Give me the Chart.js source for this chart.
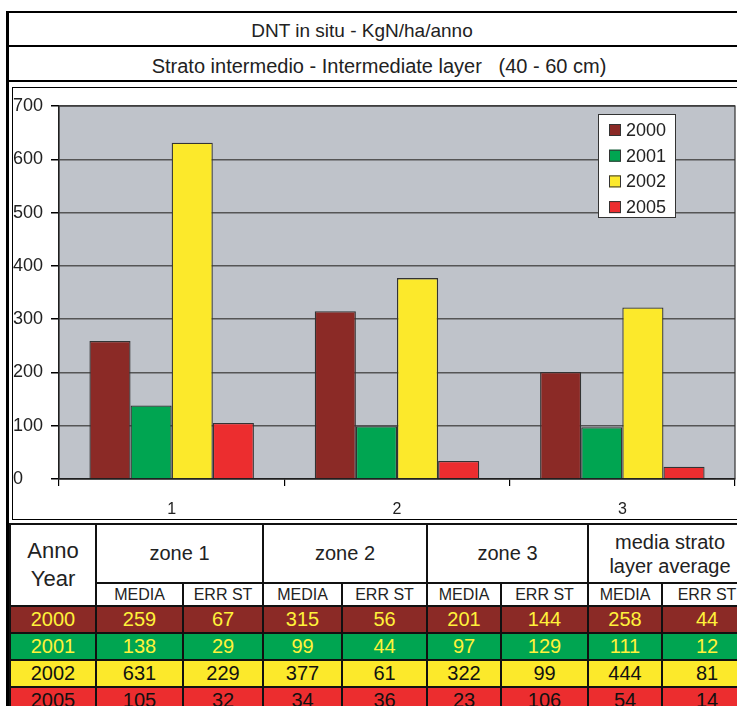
<!DOCTYPE html>
<html>
<head>
<meta charset="utf-8">
<script src="https://cdn.jsdelivr.net/npm/chart.js@4.4.1/dist/chart.umd.min.js"></script>
<style>
  body { margin: 0; width: 737px; height: 706px; overflow: hidden; background: #fff; position: relative;
         font-family: "Liberation Sans", Arial, sans-serif; color: #222; }
  .abs { position: absolute; }
  #leftbar { left: 6px; top: 11px; width: 3px; height: 700px; background: #000; }
  #topline { left: 6px; top: 11px; width: 740px; height: 2px; background: #000; }
  .row { left: 9px; width: 740px; text-align: center; border-bottom: 2px solid #000; box-sizing: border-box; }
  #t1 { top: 13px; height: 34px; line-height: 36px; font-size: 19px; padding-right: 34px; }
  #t2 { top: 47px; height: 35px; line-height: 38px; font-size: 20px; }
  #chartBox { left: 12px; top: 87px; width: 740px; height: 431px; border: 1px solid #000; }
  #chartBox canvas { position: absolute; left: 0; top: 0; }
  #tbl { position: absolute; left: 9px; top: 523px; width: 742px; border-collapse: collapse; table-layout: fixed; }
  #tbl td { border: 2px solid #111; text-align: center; padding: 0; overflow: hidden; white-space: nowrap; }
  #tbl .h1 { height: 57px; font-size: 20px; background: #fff; }
  #tbl .h2 { height: 21px; font-size: 16px; background: #fff; }
  #tbl .anno { font-size: 22px; line-height: 28px; background: #fff; }
  #tbl .two { font-size: 20px; line-height: 24px; white-space: normal; }
  #tbl .d td { height: 25px; font-size: 20px; line-height: 25px; }
</style>
</head>
<body>
<div class="abs" id="topline"></div>
<div class="abs row" id="t1">DNT in situ - KgN/ha/anno</div>
<div class="abs row" id="t2">Strato intermedio - Intermediate layer &nbsp;&nbsp;(40 - 60 cm)</div>
<div class="abs" id="chartBox"><canvas id="c" width="725" height="431"></canvas></div>
<table id="tbl"></table>
<div class="abs" id="leftbar"></div>
<script>
const zones = ['1', '2', '3'];
const years = ['2000', '2001', '2002', '2005'];
const v2000 = [259, 315, 201];
const v2001 = [138, 99, 97];
const v2002 = [631, 377, 322];
const v2005 = [105, 34, 23];
const avgMedia = [258, 111, 444, 54];
const err2000 = [67, 56, 144, 44];
const err2001 = [29, 44, 129, 12];
const err2002 = [229, 61, 99, 81];
const err2005 = [32, 36, 106, 14];
const yTicks = [0, 100, 200, 300, 400, 500, 600, 700];

const colors = ['#8B2A26', '#00A551', '#FCE92B', '#EC2D2F'];
const textColors = ['#FFF23A', '#FFF23A', '#111', '#111'];

// Tabella sotto il grafico
const values = [v2000, v2001, v2002, v2005];
const errs = [err2000, err2001, err2002, err2005];
const colW = [86, 87, 80, 79, 85, 74, 87, 74, 90];
let html = '<colgroup>' + colW.map(w => `<col style="width:${w}px">`).join('') + '</colgroup>';
html += '<tr><td class="anno" rowspan="2">Anno<br>Year</td>';
zones.forEach(z => { html += `<td class="h1" colspan="2">zone ${z}</td>`; });
html += '<td class="h1 two" colspan="2">media strato<br>layer average</td></tr>';
html += '<tr>' + '<td class="h2">MEDIA</td><td class="h2">ERR ST</td>'.repeat(4) + '</tr>';
years.forEach((y, i) => {
  const cells = [y];
  for (let z = 0; z < 3; z++) cells.push(values[i][z], errs[i][z]);
  cells.push(avgMedia[i], errs[i][3]);
  html += `<tr class="d" style="background:${colors[i]};color:${textColors[i]}">` +
    cells.map(c => `<td>${c}</td>`).join('') + '</tr>';
});
document.getElementById('tbl').innerHTML = html;

// Sfondo area del grafico
const plotBg = {
  id: 'plotBg',
  beforeDraw(chart) {
    const { ctx, chartArea: a } = chart;
    ctx.save();
    ctx.fillStyle = '#BFC3CA';
    ctx.fillRect(a.left, a.top, a.right - a.left, a.bottom - a.top);
    ctx.restore();
  },
  afterDraw(chart) {
    const { ctx, chartArea: a } = chart;
    ctx.save();
    ctx.strokeStyle = '#333';
    ctx.lineWidth = 1.2;
    ctx.strokeRect(a.left, a.top, a.right - a.left, a.bottom - a.top);
    ctx.restore();
  }
};

// Legenda dentro l'area del grafico
const boxLegend = {
  id: 'boxLegend',
  afterDraw(chart) {
    const ctx = chart.ctx;
    const x = 585, y = 26, w = 77, h = 103;
    ctx.save();
    ctx.fillStyle = '#fff';
    ctx.fillRect(x, y, w, h);
    ctx.strokeStyle = '#333';
    ctx.lineWidth = 1;
    ctx.strokeRect(x + 0.5, y + 0.5, w, h);
    ctx.font = '18px "Liberation Sans", Arial';
    ctx.textBaseline = 'middle';
    chart.data.datasets.forEach((ds, i) => {
      const cy = y + 16 + i * 25.7;
      ctx.fillStyle = ds.backgroundColor;
      ctx.fillRect(x + 11, cy - 6, 12, 12);
      ctx.strokeStyle = '#333';
      ctx.strokeRect(x + 11.5, cy - 5.5, 11, 11);
      ctx.fillStyle = '#222';
      ctx.fillText(ds.label, x + 28, cy + 1);
    });
    ctx.restore();
  }
};

new Chart(document.getElementById('c'), {
  type: 'bar',
  data: {
    labels: zones,
    datasets: [
      { label: years[0], data: v2000, backgroundColor: colors[0] },
      { label: years[1], data: v2001, backgroundColor: colors[1] },
      { label: years[2], data: v2002, backgroundColor: colors[2] },
      { label: years[3], data: v2005, backgroundColor: colors[3] }
    ].map(d => ({ ...d, borderColor: '#333', borderWidth: 1.3, categoryPercentage: 0.73, barPercentage: 1 }))
  },
  options: {
    responsive: false,
    animation: false,
    layout: { padding: { top: 18, right: 3, left: 0, bottom: 0 } },
    plugins: { legend: { display: false }, tooltip: { enabled: false } },
    scales: {
      x: {
        grid: { drawOnChartArea: false, offset: true, tickLength: 7, color: '#000', lineWidth: 1.2 },
        border: { color: '#000', width: 1.2 },
        ticks: { color: '#222', font: { size: 16, family: '"Liberation Sans", Arial' }, padding: 14 },
        afterFit(s) { s.height = 40; }
      },
      y: {
        min: 0, max: 700,
        afterBuildTicks(s) { s.ticks = yTicks.map(v => ({ value: v })); },
        grid: { color: '#555', lineWidth: 1.5, tickLength: 8, tickColor: '#000' },
        border: { color: '#000', width: 1.2 },
        ticks: { color: '#222', crossAlign: 'far', padding: 4, font: { size: 18, family: '"Liberation Sans", Arial' } },
        afterFit(s) { s.width = 46; }
      }
    }
  },
  plugins: [plotBg, boxLegend]
});
</script>
</body>
</html>
